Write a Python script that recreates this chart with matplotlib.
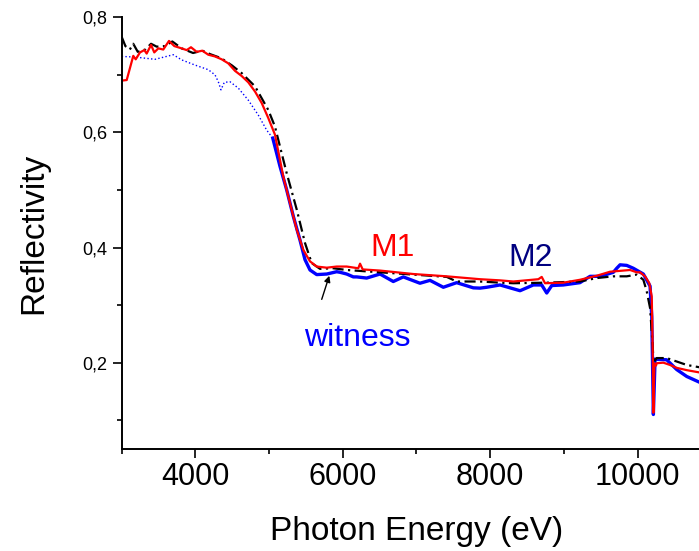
import numpy as np
import matplotlib.pyplot as plt
from matplotlib.ticker import MultipleLocator, FuncFormatter

plt.rcParams['font.family'] = ['Liberation Sans', 'DejaVu Sans']

## Data (photon energy in eV, reflectivity)
# M1 (red, solid)
m1_energy = np.array([3000, 3068, 3157, 3190, 3248, 3307, 3339, 3398, 3442, 3497, 3564, 3642, 3714, 3814,
                      3882, 3940, 4018, 4094, 4175, 4266, 4357, 4446, 4537, 4628, 4718, 4809, 4900, 4989,
                      5080, 5193, 5284, 5375, 5464, 5555, 5646, 5782, 5917, 6053, 6210, 6234, 6270, 6505,
                      6957, 7410, 7862, 8133, 8314, 8653, 8699, 8744, 8992, 9218, 9445, 9626, 9806, 9897,
                      9988, 10033, 10101, 10159, 10192, 10205, 10214, 10228, 10250, 10259, 10349, 10440,
                      10531, 10667, 10840])
m1_refl = np.array([0.690, 0.691, 0.733, 0.727, 0.739, 0.743, 0.737, 0.752, 0.739, 0.746, 0.744, 0.759, 0.750, 0.746,
                    0.743, 0.748, 0.740, 0.742, 0.735, 0.732, 0.727, 0.720, 0.707, 0.698, 0.687, 0.671, 0.651, 0.625,
                    0.596, 0.523, 0.477, 0.431, 0.396, 0.376, 0.367, 0.365, 0.367, 0.367, 0.364, 0.372, 0.362, 0.360,
                    0.354, 0.350, 0.345, 0.343, 0.341, 0.345, 0.349, 0.338, 0.339, 0.344, 0.351, 0.358, 0.360, 0.361,
                    0.357, 0.357, 0.350, 0.338, 0.315, 0.222, 0.113, 0.199, 0.195, 0.199, 0.200, 0.196,
                    0.191, 0.187, 0.183])

# M2 (black, dash-dot)
m2_energy = np.array([3000, 3050, 3110, 3157, 3218, 3320, 3398, 3475, 3587, 3687, 3814, 3968, 4094, 4200,
                      4350, 4500, 4628, 4809, 4989, 5080, 5239, 5375, 5487, 5578, 5691, 5872, 6053, 6505,
                      6957, 7410, 7545, 7862, 8133, 8314, 8767, 9218, 9445, 9671, 9852, 9988, 10078, 10124,
                      10169, 10205, 10215, 10259, 10395, 10531, 10667, 10840])
m2_refl = np.array([0.766, 0.750, 0.744, 0.754, 0.740, 0.744, 0.754, 0.749, 0.750, 0.758, 0.746, 0.738, 0.742, 0.736,
                    0.729, 0.716, 0.703, 0.680, 0.639, 0.610, 0.529, 0.466, 0.408, 0.373, 0.363, 0.364, 0.361, 0.357,
                    0.353, 0.349, 0.341, 0.341, 0.339, 0.338, 0.339, 0.341, 0.347, 0.350, 0.350, 0.353, 0.344, 0.324,
                    0.295, 0.230, 0.200, 0.208, 0.208, 0.202, 0.196, 0.192])

# witness, low resolution part (blue, dotted)
wit_lo_energy = np.array([3000, 3180, 3452, 3700, 3814, 3995, 4175, 4266, 4311, 4347, 4392, 4470, 4582, 4718,
                          4854, 4967, 5050])
wit_lo_refl = np.array([0.732, 0.731, 0.727, 0.735, 0.726, 0.717, 0.709, 0.700, 0.688, 0.674, 0.687, 0.688, 0.677, 0.656,
                        0.630, 0.604, 0.590])

# witness (blue, thick solid)
wit_energy = np.array([5050, 5148, 5239, 5329, 5419, 5487, 5555, 5646, 5782, 5917, 5963, 6053, 6143, 6189,
                       6324, 6505, 6685, 6821, 7047, 7183, 7364, 7545, 7771, 7862, 7953, 8133, 8405, 8585,
                       8699, 8767, 8835, 8992, 9218, 9355, 9490, 9671, 9717, 9762, 9852, 9942, 10078, 10169,
                       10192, 10214, 10237, 10395, 10531, 10667, 10840])
wit_refl = np.array([0.590, 0.541, 0.500, 0.454, 0.413, 0.379, 0.361, 0.353, 0.354, 0.358, 0.357, 0.354, 0.349, 0.349,
                     0.347, 0.354, 0.341, 0.349, 0.338, 0.343, 0.331, 0.339, 0.330, 0.3295, 0.331, 0.335, 0.325, 0.335,
                     0.335, 0.321, 0.334, 0.335, 0.339, 0.350, 0.350, 0.357, 0.364, 0.370, 0.369, 0.364, 0.354, 0.333,
                     0.280, 0.110, 0.206, 0.205, 0.188, 0.176, 0.166])

# curve names and where they sit (data coords)
labels = ['M1', 'M2', 'witness']
label_x = [6675, 8547, 6200]
label_y = [0.386, 0.368, 0.229]
label_colors = ['#ff0000', '#000080', '#0000ff']


fig = plt.figure(figsize=(6.99, 5.51), dpi=100)
# the original was cropped on the right, axes run on past the figure edge
ax = fig.add_axes([0.1741, 0.1851, 0.8435, 0.7835])

ax.plot(wit_lo_energy, wit_lo_refl, color='#0000ff', linestyle=':', linewidth=1.0)
ax.plot(wit_energy, wit_refl, color='#0000ff', linestyle='-', linewidth=2.4)
ax.plot(m2_energy, m2_refl, color='black', linestyle=(0, (5, 2, 1, 2)), linewidth=1.6)
ax.plot(m1_energy, m1_refl, color='#ff0000', linestyle='-', linewidth=1.6)

for name, tx, ty, c in zip(labels, label_x, label_y, label_colors):
    ax.text(tx, ty, name, color=c, fontsize=23, ha='center', va='baseline')

ax.annotate('', xy=(5817, 0.351), xytext=(5714, 0.310),
            arrowprops=dict(arrowstyle='-|>', color='black', lw=1.0, mutation_scale=9, shrinkA=0, shrinkB=0))

ax.set_xlim(3000, 11000)
ax.set_ylim(0.05, 0.8)
ax.xaxis.set_major_locator(MultipleLocator(2000))
ax.xaxis.set_minor_locator(MultipleLocator(1000))
ax.yaxis.set_major_locator(MultipleLocator(0.2))
ax.yaxis.set_minor_locator(MultipleLocator(0.1))
ax.yaxis.set_major_formatter(FuncFormatter(lambda v, p: ('%.1f' % v).replace('.', ',')))

ax.spines['top'].set_visible(False)
ax.spines['right'].set_visible(False)
ax.spines['left'].set_linewidth(1.4)
ax.spines['bottom'].set_linewidth(1.4)

ax.tick_params(which='major', direction='out', length=6.5, width=1.2)
ax.tick_params(which='minor', direction='out', length=3.5, width=1.2)
ax.tick_params(axis='x', labelsize=22, pad=3)
ax.tick_params(axis='y', labelsize=13, pad=4)

ax.set_xlabel('Photon Energy (eV)', fontsize=24, labelpad=17)
ax.set_ylabel('Reflectivity', fontsize=24)
ax.yaxis.set_label_coords(-0.1225, 0.5)

plt.savefig('out.png', dpi=100)
